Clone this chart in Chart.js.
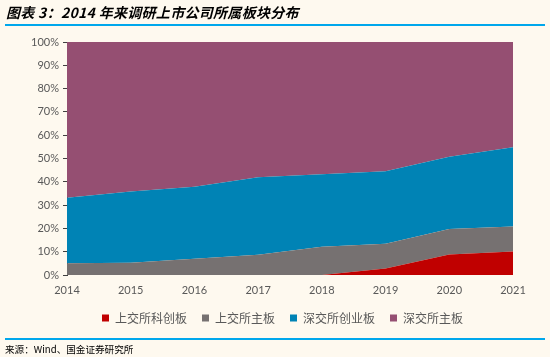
<!DOCTYPE html>
<html><head><meta charset="utf-8">
<script src="https://cdn.jsdelivr.net/npm/chart.js@4"></script>
<style>
html,body{margin:0;padding:0;background:#FEF9EF;width:550px;height:357px;overflow:hidden;position:relative}
#title{position:absolute;left:6px;top:3px;font-family:"Noto Sans CJK SC",sans-serif;font-weight:bold;font-style:italic;font-size:14px;letter-spacing:0.3px;color:#000;white-space:pre;line-height:18px}
#l1{position:absolute;left:5px;top:24px;width:540px;height:2px;background:#00A7EC}
#l2{position:absolute;left:5px;top:338px;width:540px;height:2px;background:#00A7EC}
#src{position:absolute;left:5px;top:342px;font-family:"Noto Sans CJK SC",sans-serif;font-size:9.6px;color:#000;white-space:nowrap;line-height:14px}
#wrap{position:absolute;left:0;top:0;width:550px;height:357px}
</style></head><body>
<div id="wrap"><canvas id="c" width="550" height="357"></canvas></div>
<div id="title">图表 3：2014 年来调研上市公司所属板块分布</div>
<div id="l1"></div>
<div id="l2"></div>
<div id="src">来源：Wind、国金证券研究所</div>
<script>
const years = ['2014','2015','2016','2017','2018','2019','2020','2021'];
const shStar = [0, 0, 0, 0, 0, 2.8, 8.8, 10.1];          // 上交所科创板
const shMain = [5.0, 5.3, 7.0, 8.7, 12.1, 10.6, 10.9, 10.7]; // 上交所主板
const szGem  = [28.2, 30.5, 30.9, 33.2, 31.1, 31.1, 31.1, 34.0]; // 深交所创业板
const szMain = [66.8, 64.2, 62.1, 58.1, 56.8, 55.5, 49.2, 45.2]; // 深交所主板
const seriesNames = ['上交所科创板','上交所主板','深交所创业板','深交所主板'];
const seriesColors = ['#C00000','#767171','#0083B5','#954F72'];
const yTicks = [0,10,20,30,40,50,60,70,80,90,100];

const seriesData = [shStar, shMain, szGem, szMain];
const datasets = seriesData.map((d,i)=>({
  label: seriesNames[i],
  data: d,
  backgroundColor: seriesColors[i],
  borderColor: seriesColors[i],
  borderWidth: 0,
  pointRadius: 0,
  tension: 0,
  fill: i===0 ? 'origin' : '-1'
}));

const legendShift = {
  id: 'legendShift',
  afterLayout(chart) {
    if (chart.legend) { chart.legend.left += 26; chart.legend.right += 26; }
  }
};

new Chart(document.getElementById('c'), {
  type: 'line',
  data: { labels: years, datasets },
  plugins: [legendShift],
  options: {
    responsive: false,
    animation: false,
    devicePixelRatio: 1,
    layout: { padding: { top: 42, left: 0, right: 37, bottom: 23 } },
    plugins: {
      tooltip: { enabled: false },
      legend: {
        position: 'bottom',
        labels: {
          boxWidth: 7, boxHeight: 7, padding: 15,
          color: '#595959',
          font: { family: '"Noto Sans CJK SC", sans-serif', size: 12 }
        }
      }
    },
    scales: {
      x: {
        offset: false,
        grid: { display: false, drawTicks: false },
        border: { display: false },
        ticks: { color: '#595959', font: { family: 'Lato, sans-serif', size: 11 }, padding: 9, maxRotation: 0 },
        afterFit: s => { s.height = 22; }
      },
      y: {
        stacked: true,
        min: 0, max: 100,
        afterBuildTicks: s => { s.ticks = yTicks.map(v=>({value:v})); },
        grid: { drawOnChartArea: false, drawTicks: true, tickLength: 4, color: '#404040' },
        border: { display: true, color: '#404040', width: 1 },
        ticks: { color: '#595959', font: { family: 'Lato, sans-serif', size: 11 }, padding: 4, callback: v => v + '%' },
        afterFit: s => { s.width = 67; }
      }
    }
  }
});
</script>
</body></html>
